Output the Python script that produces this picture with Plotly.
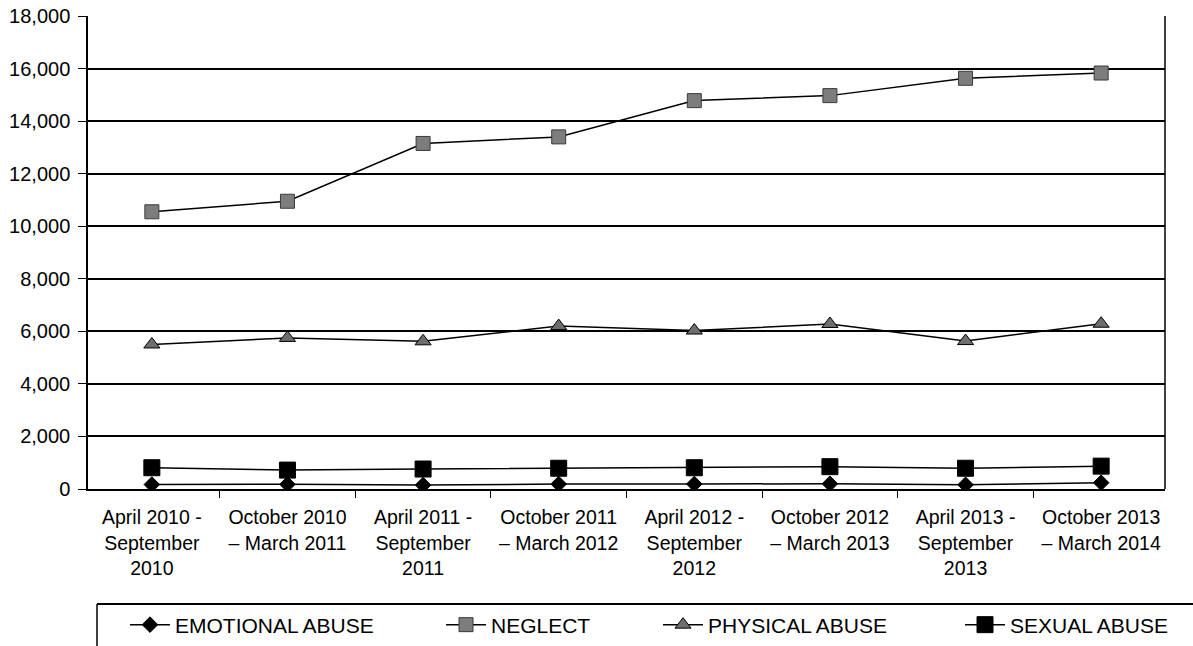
import plotly.graph_objects as go

categories = [
    "April 2010 -<br>September<br>2010",
    "October 2010<br>– March 2011",
    "April 2011 -<br>September<br>2011",
    "October 2011<br>– March 2012",
    "April 2012 -<br>September<br>2012",
    "October 2012<br>– March 2013",
    "April 2013 -<br>September<br>2013",
    "October 2013<br>– March 2014",
]
emotional = [170, 180, 150, 190, 190, 200, 160, 240]
neglect = [10550, 10950, 13150, 13400, 14780, 14970, 15630, 15830]
physical = [5500, 5750, 5620, 6200, 6030, 6280, 5630, 6290]
sexual = [810, 720, 760, 790, 810, 850, 790, 870]
y_ticks = list(range(0, 18001, 2000))

W, H = 1193, 646
ml, mr, mt, mb = 88, 28, 16, 157
pw, ph = W - ml - mr, H - mt - mb

def px_x(px):
    return (px - ml) / pw

def px_y(py):
    return (H - mb - py) / ph

FONT = "Liberation Sans, Arial, sans-serif"

fig = go.Figure()
series = [
    ("EMOTIONAL ABUSE", emotional, dict(symbol="diamond", size=12, color="black", line=dict(color="black", width=1)), "legend"),
    ("NEGLECT", neglect, dict(symbol="square", size=14, color="#7d7d7d", line=dict(color="#3a3a3a", width=1)), "legend2"),
    ("PHYSICAL ABUSE", physical, dict(symbol="triangle-up", size=14, color="#6e6e6e", line=dict(color="black", width=1)), "legend3"),
    ("SEXUAL ABUSE", sexual, dict(symbol="square", size=16, color="black", line=dict(color="black", width=1)), "legend4"),
]
for name, vals, mk, lg in series:
    fig.add_trace(go.Scatter(
        x=categories, y=vals, name=name, mode="lines+markers",
        line=dict(color="black", width=1.5), marker=mk, legend=lg,
        showlegend=True,
    ))

leg_common = dict(orientation="h", yanchor="middle", xanchor="left",
                  font=dict(family=FONT, size=21, color="black"),
                  bgcolor="rgba(0,0,0,0)", itemwidth=40)
legend_y = px_y(625)
text_starts = [175, 491, 708, 1010]
leg_x = [px_x(t - 50) for t in text_starts]
fig.update_layout(
    width=W, height=H,
    margin=dict(l=ml, r=mr, t=mt, b=mb, autoexpand=False),
    plot_bgcolor="white", paper_bgcolor="white",
    font=dict(family=FONT, size=19, color="black"),
    showlegend=True,
    legend=dict(x=leg_x[0], y=legend_y, **leg_common),
    legend2=dict(x=leg_x[1], y=legend_y, **leg_common),
    legend3=dict(x=leg_x[2], y=legend_y, **leg_common),
    legend4=dict(x=leg_x[3], y=legend_y, **leg_common),
    xaxis=dict(
        showgrid=False, showline=True, linecolor="black", linewidth=1.5,
        ticks="outside", tickson="boundaries", ticklen=7, tickcolor="black",
        tickfont=dict(size=19.5), zeroline=False, automargin=False,
        ticklabelstandoff=10,
    ),
    yaxis=dict(
        range=[0, 18000], tickvals=y_ticks, tickformat=",",
        showgrid=True, gridcolor="black", gridwidth=1.8,
        showline=True, linecolor="black", linewidth=1.5,
        ticks="outside", ticklen=8, tickcolor="black",
        tickfont=dict(size=20), zeroline=False, automargin=False,
        ticklabelstandoff=4,
    ),
)
# right border of plot area
fig.add_shape(type="line", xref="paper", yref="paper", x0=1, x1=1, y0=0, y1=1,
              line=dict(color="black", width=1.5))
# legend frame (top and left edges visible)
fig.add_shape(type="line", xref="paper", yref="paper", x0=px_x(97), x1=px_x(1200), y0=px_y(604), y1=px_y(604),
              line=dict(color="black", width=1.8))
fig.add_shape(type="line", xref="paper", yref="paper", x0=px_x(97), x1=px_x(97), y0=px_y(604), y1=px_y(650),
              line=dict(color="black", width=1.5))

fig.write_html("out.html", config={"displayModeBar": False},
               post_script="document.body.style.margin='0';document.body.style.overflow='hidden';")
